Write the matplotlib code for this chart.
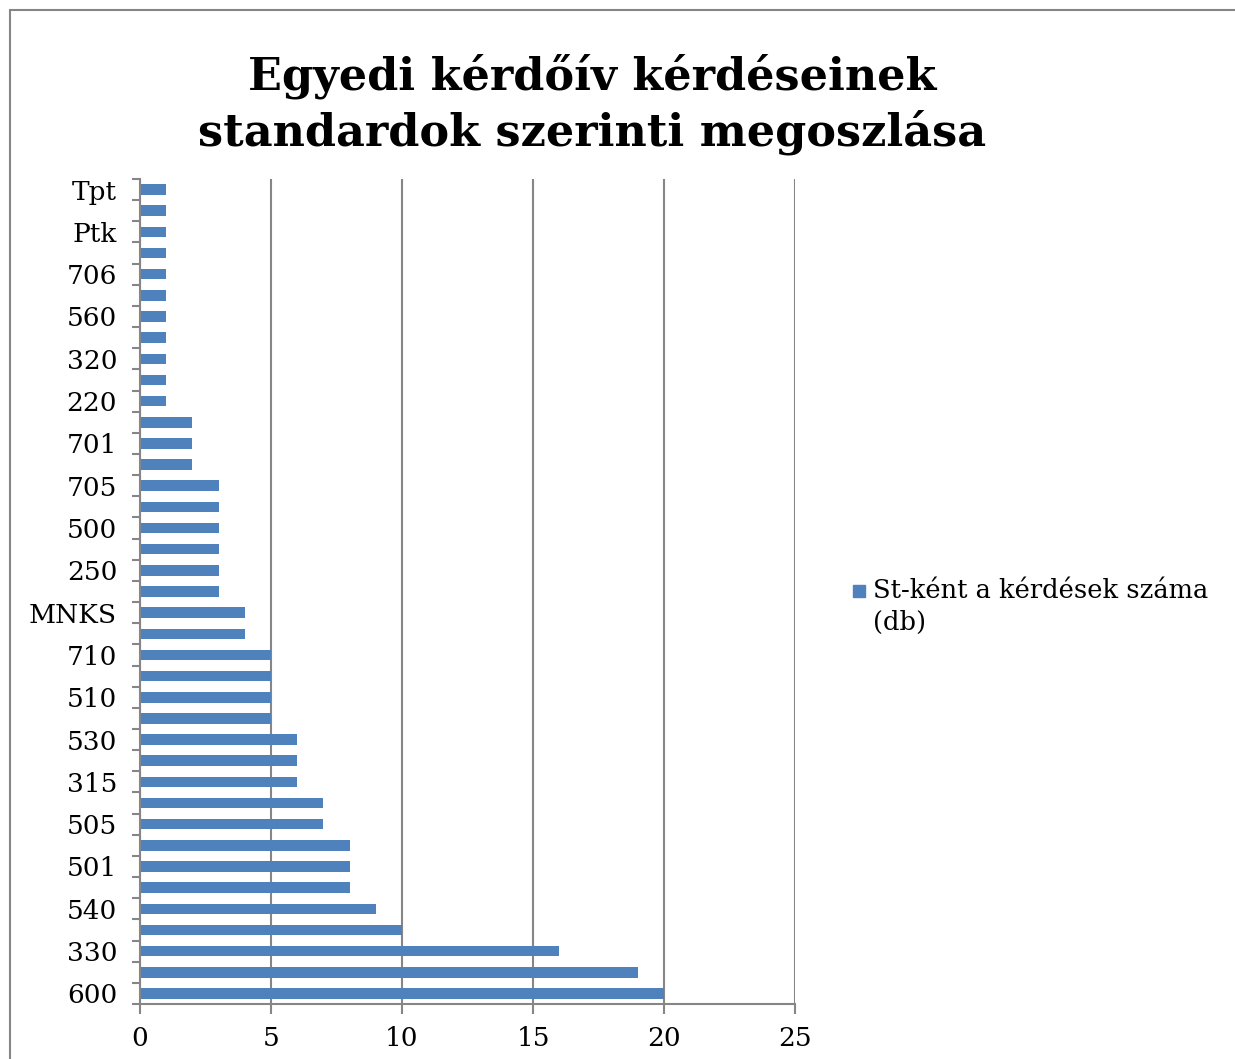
import numpy as np
import matplotlib
matplotlib.use("Agg")
import matplotlib.pyplot as plt
from matplotlib.patches import Rectangle

# -----------------------------
# Data (bottom to top)
# -----------------------------

labels = ["600", "", "330", "", "540", "", "501", "", "505", "",
          "315", "", "530", "", "510", "", "710", "", "MNKS", "",
          "250", "", "500", "", "705", "", "701", "", "220", "",
          "320", "", "560", "", "706", "", "Ptk", "", "Tpt"]
counts = [20, 19, 16, 10, 9, 8, 8, 8, 7, 7,
          6, 6, 6, 5, 5, 5, 5, 4, 4, 3,
          3, 3, 3, 3, 3, 2, 2, 2, 1, 1,
          1, 1, 1, 1, 1, 1, 1, 1, 1]
x_ticks = [0, 5, 10, 15, 20, 25]

title = "Egyedi kérdőív kérdéseinek\nstandardok szerinti megoszlása"
series_lines = ["St-ként a kérdések száma", "(db)"]

bar_color = "#4F81BD"
grey = "#868686"

plt.rcParams["font.family"] = ["DejaVu Serif"]

W, H = 1235, 1059
fig = plt.figure(figsize=(W / 100, H / 100), dpi=100)

ax = fig.add_axes([140 / W, 1 - 1004 / H, (795 - 140) / W, (1004 - 179) / H])

y = np.arange(len(counts))
ax.barh(y, counts, height=0.5, color=bar_color, zorder=3)

ax.set_xlim(0, 25)
ax.set_ylim(-0.5, len(counts) - 0.5)

# gridlines
ax.set_xticks(x_ticks)
ax.xaxis.grid(True, color=grey, linewidth=1.5, zorder=0)
ax.tick_params(axis="x", length=7, width=1.5, color=grey, labelsize=19,
               pad=9, direction="out")

# y ticks: labels at every other category, tick marks at boundaries
ax.set_yticks(y[::2])
ax.set_yticklabels(labels[::2])
ax.tick_params(axis="y", which="major", length=0, labelsize=19, pad=16.5)
ax.set_yticks(np.arange(len(counts) + 1) - 0.5, minor=True)
ax.tick_params(axis="y", which="minor", length=6, width=1.5, color=grey,
               direction="out")

for side in ["top", "right"]:
    ax.spines[side].set_visible(False)
for side in ["left", "bottom"]:
    ax.spines[side].set_color(grey)
    ax.spines[side].set_linewidth(1.5)
    ax.spines[side].set_zorder(4)

# title
fig.text(592 / W, 1 - 104 / H, title, ha="center", va="center",
         fontsize=32, fontweight="bold", linespacing=1.3)

# legend
fig.patches.append(Rectangle((853 / W, 1 - 597 / H), 12 / W, 12 / H,
                             transform=fig.transFigure, color=bar_color))
for i, line in enumerate(series_lines):
    fig.text(873 / W, 1 - (591 + 31 * i) / H, line, ha="left",
             va="center", fontsize=18.5)

# outer chart border
fig.patches.append(Rectangle((9.5 / W, -0.1), 2, 1.1 - 9.5 / H,
                             transform=fig.transFigure, fill=False,
                             edgecolor=grey, linewidth=1.5))

fig.savefig("out.png", dpi=100)
